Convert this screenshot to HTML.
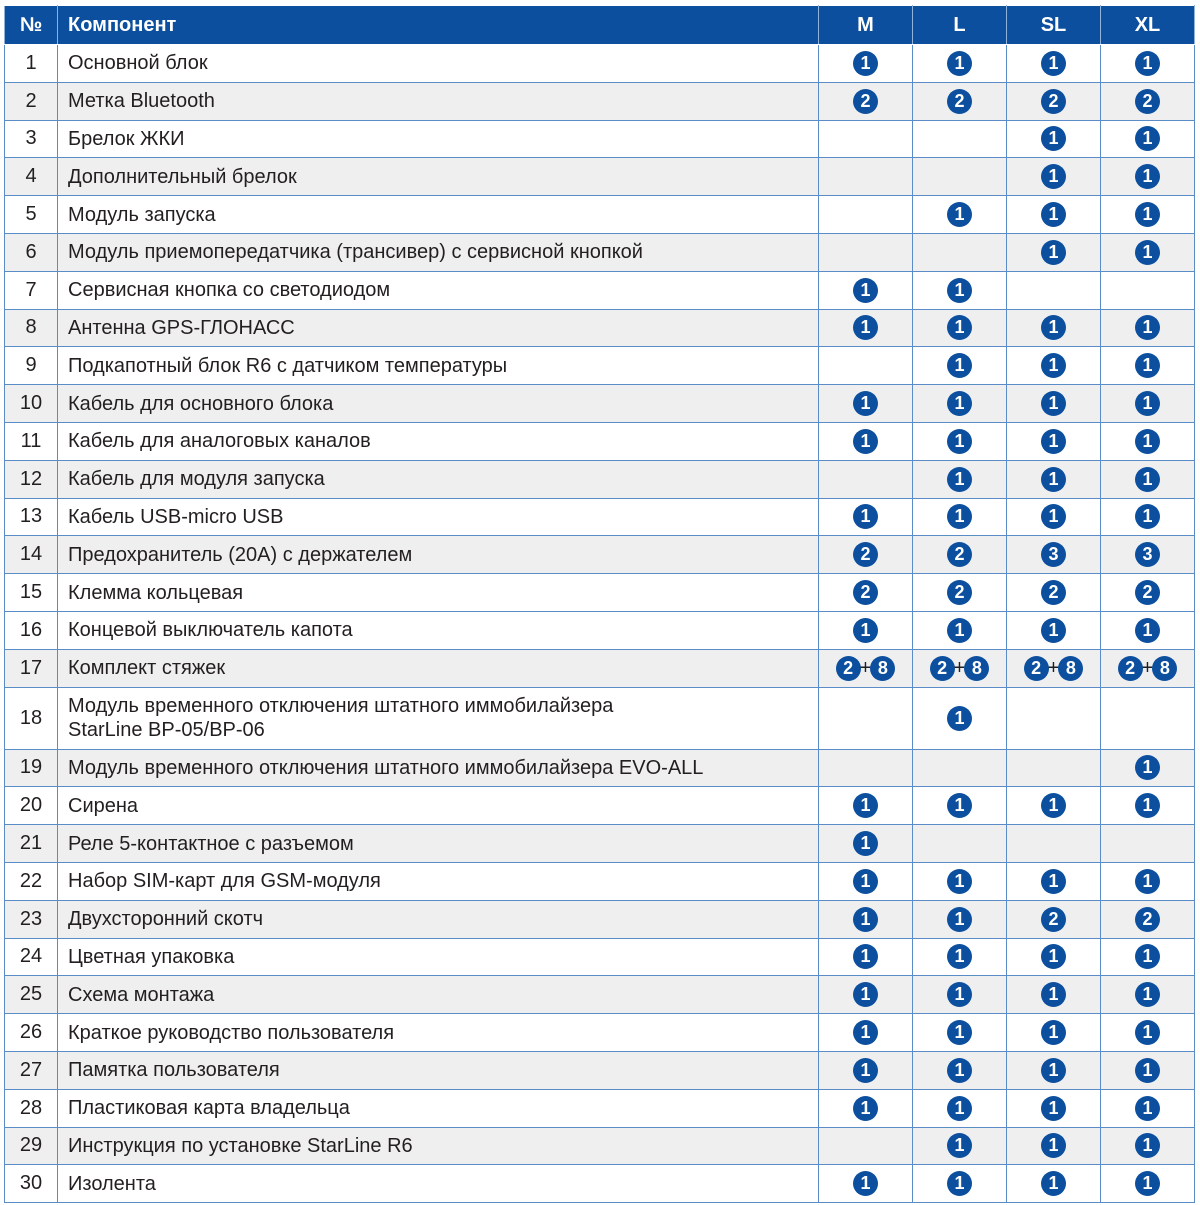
<!DOCTYPE html>
<html><head><meta charset="utf-8"><style>
html,body{margin:0;padding:0;background:#fff;width:1200px;height:1205px;overflow:hidden}
table{position:absolute;left:4px;top:5px;border-collapse:collapse;table-layout:fixed;font-family:"Liberation Sans",sans-serif;color:#231f20}
td,th{border:1.5px solid #5a8dc8;padding:0;font-size:20px;height:37.8px;box-sizing:border-box;vertical-align:middle}
th{background:#0b4f9e;color:#fff;font-weight:bold;height:39px;border-color:#fff #8fb3da;}
th.l{text-align:left;padding-left:10px}
td.n{text-align:center}
td.t{padding-left:10px;line-height:24px}
td.c{text-align:center}
tr.g td{background:#efeff0}
.b{display:inline-block;width:25px;height:25px;border-radius:50%;background:#0b4f9e;color:#fff;font-weight:bold;font-size:18px;line-height:25px;text-align:center;vertical-align:middle}
.p{vertical-align:middle;font-size:20px;margin:0 -1px}
</style></head><body>
<table>
<colgroup><col style="width:53px"><col style="width:761px"><col style="width:94px"><col style="width:94px"><col style="width:94px"><col style="width:94px"></colgroup>
<tr><th>№</th><th class="l">Компонент</th><th>M</th><th>L</th><th>SL</th><th>XL</th></tr>
<tr><td class="n">1</td><td class="t">Основной блок</td><td class="c"><span class="b">1</span></td><td class="c"><span class="b">1</span></td><td class="c"><span class="b">1</span></td><td class="c"><span class="b">1</span></td></tr>
<tr class="g"><td class="n">2</td><td class="t">Метка Bluetooth</td><td class="c"><span class="b">2</span></td><td class="c"><span class="b">2</span></td><td class="c"><span class="b">2</span></td><td class="c"><span class="b">2</span></td></tr>
<tr><td class="n">3</td><td class="t">Брелок ЖКИ</td><td></td><td></td><td class="c"><span class="b">1</span></td><td class="c"><span class="b">1</span></td></tr>
<tr class="g"><td class="n">4</td><td class="t">Дополнительный брелок</td><td></td><td></td><td class="c"><span class="b">1</span></td><td class="c"><span class="b">1</span></td></tr>
<tr><td class="n">5</td><td class="t">Модуль запуска</td><td></td><td class="c"><span class="b">1</span></td><td class="c"><span class="b">1</span></td><td class="c"><span class="b">1</span></td></tr>
<tr class="g"><td class="n">6</td><td class="t">Модуль приемопередатчика (трансивер) с сервисной кнопкой</td><td></td><td></td><td class="c"><span class="b">1</span></td><td class="c"><span class="b">1</span></td></tr>
<tr><td class="n">7</td><td class="t">Сервисная кнопка со светодиодом</td><td class="c"><span class="b">1</span></td><td class="c"><span class="b">1</span></td><td></td><td></td></tr>
<tr class="g"><td class="n">8</td><td class="t">Антенна GPS-ГЛОНАСС</td><td class="c"><span class="b">1</span></td><td class="c"><span class="b">1</span></td><td class="c"><span class="b">1</span></td><td class="c"><span class="b">1</span></td></tr>
<tr><td class="n">9</td><td class="t">Подкапотный блок R6 с датчиком температуры</td><td></td><td class="c"><span class="b">1</span></td><td class="c"><span class="b">1</span></td><td class="c"><span class="b">1</span></td></tr>
<tr class="g"><td class="n">10</td><td class="t">Кабель для основного блока</td><td class="c"><span class="b">1</span></td><td class="c"><span class="b">1</span></td><td class="c"><span class="b">1</span></td><td class="c"><span class="b">1</span></td></tr>
<tr><td class="n">11</td><td class="t">Кабель для аналоговых каналов</td><td class="c"><span class="b">1</span></td><td class="c"><span class="b">1</span></td><td class="c"><span class="b">1</span></td><td class="c"><span class="b">1</span></td></tr>
<tr class="g"><td class="n">12</td><td class="t">Кабель для модуля запуска</td><td></td><td class="c"><span class="b">1</span></td><td class="c"><span class="b">1</span></td><td class="c"><span class="b">1</span></td></tr>
<tr><td class="n">13</td><td class="t">Кабель USB-micro USB</td><td class="c"><span class="b">1</span></td><td class="c"><span class="b">1</span></td><td class="c"><span class="b">1</span></td><td class="c"><span class="b">1</span></td></tr>
<tr class="g"><td class="n">14</td><td class="t">Предохранитель (20А) с держателем</td><td class="c"><span class="b">2</span></td><td class="c"><span class="b">2</span></td><td class="c"><span class="b">3</span></td><td class="c"><span class="b">3</span></td></tr>
<tr><td class="n">15</td><td class="t">Клемма кольцевая</td><td class="c"><span class="b">2</span></td><td class="c"><span class="b">2</span></td><td class="c"><span class="b">2</span></td><td class="c"><span class="b">2</span></td></tr>
<tr><td class="n">16</td><td class="t">Концевой выключатель капота</td><td class="c"><span class="b">1</span></td><td class="c"><span class="b">1</span></td><td class="c"><span class="b">1</span></td><td class="c"><span class="b">1</span></td></tr>
<tr class="g"><td class="n">17</td><td class="t">Комплект стяжек</td><td class="c"><span class="b">2</span><span class="p">+</span><span class="b">8</span></td><td class="c"><span class="b">2</span><span class="p">+</span><span class="b">8</span></td><td class="c"><span class="b">2</span><span class="p">+</span><span class="b">8</span></td><td class="c"><span class="b">2</span><span class="p">+</span><span class="b">8</span></td></tr>
<tr><td class="n" style="height:62px">18</td><td class="t">Модуль временного отключения штатного иммобилайзера<br>StarLine BP-05/BP-06</td><td></td><td class="c"><span class="b">1</span></td><td></td><td></td></tr>
<tr class="g"><td class="n">19</td><td class="t">Модуль временного отключения штатного иммобилайзера EVO-ALL</td><td></td><td></td><td></td><td class="c"><span class="b">1</span></td></tr>
<tr><td class="n">20</td><td class="t">Сирена</td><td class="c"><span class="b">1</span></td><td class="c"><span class="b">1</span></td><td class="c"><span class="b">1</span></td><td class="c"><span class="b">1</span></td></tr>
<tr class="g"><td class="n">21</td><td class="t">Реле 5-контактное с разъемом</td><td class="c"><span class="b">1</span></td><td></td><td></td><td></td></tr>
<tr><td class="n">22</td><td class="t">Набор SIM-карт для GSM-модуля</td><td class="c"><span class="b">1</span></td><td class="c"><span class="b">1</span></td><td class="c"><span class="b">1</span></td><td class="c"><span class="b">1</span></td></tr>
<tr class="g"><td class="n">23</td><td class="t">Двухсторонний скотч</td><td class="c"><span class="b">1</span></td><td class="c"><span class="b">1</span></td><td class="c"><span class="b">2</span></td><td class="c"><span class="b">2</span></td></tr>
<tr><td class="n">24</td><td class="t">Цветная упаковка</td><td class="c"><span class="b">1</span></td><td class="c"><span class="b">1</span></td><td class="c"><span class="b">1</span></td><td class="c"><span class="b">1</span></td></tr>
<tr class="g"><td class="n">25</td><td class="t">Схема монтажа</td><td class="c"><span class="b">1</span></td><td class="c"><span class="b">1</span></td><td class="c"><span class="b">1</span></td><td class="c"><span class="b">1</span></td></tr>
<tr><td class="n">26</td><td class="t">Краткое руководство пользователя</td><td class="c"><span class="b">1</span></td><td class="c"><span class="b">1</span></td><td class="c"><span class="b">1</span></td><td class="c"><span class="b">1</span></td></tr>
<tr class="g"><td class="n">27</td><td class="t">Памятка пользователя</td><td class="c"><span class="b">1</span></td><td class="c"><span class="b">1</span></td><td class="c"><span class="b">1</span></td><td class="c"><span class="b">1</span></td></tr>
<tr><td class="n">28</td><td class="t">Пластиковая карта владельца</td><td class="c"><span class="b">1</span></td><td class="c"><span class="b">1</span></td><td class="c"><span class="b">1</span></td><td class="c"><span class="b">1</span></td></tr>
<tr class="g"><td class="n">29</td><td class="t">Инструкция по установке StarLine R6</td><td></td><td class="c"><span class="b">1</span></td><td class="c"><span class="b">1</span></td><td class="c"><span class="b">1</span></td></tr>
<tr><td class="n">30</td><td class="t">Изолента</td><td class="c"><span class="b">1</span></td><td class="c"><span class="b">1</span></td><td class="c"><span class="b">1</span></td><td class="c"><span class="b">1</span></td></tr>
</table>
</body></html>
